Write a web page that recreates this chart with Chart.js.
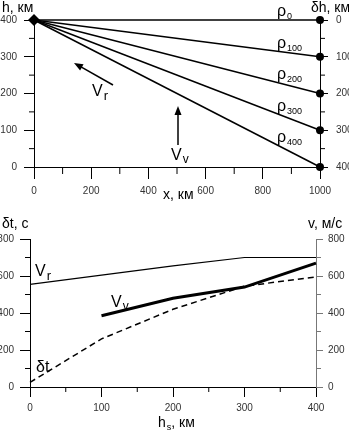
<!DOCTYPE html>
<html>
<head>
<meta charset="utf-8">
<script src="https://cdn.jsdelivr.net/npm/chart.js@4.4.0/dist/chart.umd.min.js"></script>
<style>
  html, body { margin: 0; padding: 0; background: #fff; }
  .wrap { position: absolute; left: 0; width: 349px; height: 215px; }
</style>
</head>
<body>
<div class="wrap" style="top:0"><canvas id="topChart" width="349" height="215"></canvas></div>
<div class="wrap" style="top:215px"><canvas id="bottomChart" width="349" height="215"></canvas></div>
<script>
// top chart: rays from the source point, by density level
const xDist = [0, 1000];
const deltaH = [0, 100, 200, 300, 400];
const rhoLabels = ['0', '100', '200', '300', '400'];

// bottom chart: values vs source height hs
const hs = [0, 100, 200, 300, 400];
const vR = [555, 605, 655, 700, 700];
const vV = [null, 385, 480, 540, 670];
const dT = [25, 260, 420, 545, 595];

const NARROW = "'Liberation Sans Narrow', 'Arial Narrow', sans-serif";
const tickFont = { family: NARROW, size: 10 };

// short minor ticks drawn by hand (Chart.js has one tick length per axis)
function minorTicks(chart, id, values, len, dir, color) {
  const s = chart.scales[id];
  const ctx = chart.ctx;
  ctx.save();
  ctx.strokeStyle = color || '#000';
  ctx.lineWidth = 1;
  values.forEach(v => {
    const p = s.getPixelForValue(v);
    ctx.beginPath();
    if (s.isHorizontal()) {
      ctx.moveTo(p, s.top);
      ctx.lineTo(p, s.top + len);
    } else if (dir < 0) {
      ctx.moveTo(s.right, p);
      ctx.lineTo(s.right - len, p);
    } else {
      ctx.moveTo(s.left, p);
      ctx.lineTo(s.left + len, p);
    }
    ctx.stroke();
  });
  ctx.restore();
}

function subText(ctx, main, sub, x, y, mainSize, subSize, drop) {
  ctx.font = mainSize + 'px ' + NARROW;
  ctx.fillText(main, x, y);
  const w = ctx.measureText(main).width;
  ctx.font = subSize + 'px ' + NARROW;
  ctx.fillText(sub, x + w + 1, y + drop);
  return x + w + 1 + ctx.measureText(sub).width;
}

function arrow(ctx, x1, y1, x2, y2) {
  const a = Math.atan2(y2 - y1, x2 - x1);
  ctx.beginPath();
  ctx.moveTo(x1, y1);
  ctx.lineTo(x2 - 6 * Math.cos(a), y2 - 6 * Math.sin(a));
  ctx.lineWidth = 1.5;
  ctx.stroke();
  ctx.beginPath();
  ctx.moveTo(x2, y2);
  ctx.lineTo(x2 - 9 * Math.cos(a) + 3.5 * Math.sin(a), y2 - 9 * Math.sin(a) - 3.5 * Math.cos(a));
  ctx.lineTo(x2 - 9 * Math.cos(a) - 3.5 * Math.sin(a), y2 - 9 * Math.sin(a) + 3.5 * Math.cos(a));
  ctx.closePath();
  ctx.fill();
}

const topDecor = {
  id: 'topDecor',
  afterDraw(chart) {
    const ctx = chart.ctx;
    minorTicks(chart, 'x', [100, 300, 500, 700, 900], 7, 1);
    minorTicks(chart, 'y', [50, 150, 250, 350], 5, -1);
    minorTicks(chart, 'y2', [50, 150, 250, 350], 5, 1);

    ctx.save();
    ctx.fillStyle = '#000';
    ctx.strokeStyle = '#000';
    ctx.textBaseline = 'alphabetic';
    ctx.font = '14px ' + NARROW;
    ctx.fillText('h, км', 2, 12);
    ctx.fillText('δh, км', 311, 12);
    ctx.fillText('x, км', 163, 199);

    // rho labels sit just above each ray
    const xs = chart.scales.x, y2 = chart.scales.y2;
    deltaH.forEach((dh, i) => {
      const xv = 860;
      const px = xs.getPixelForValue(xv) - 3;
      const py = y2.getPixelForValue(dh * xv / 1000) - 4;
      subText(ctx, 'ρ', rhoLabels[i], px, py, 16, 9, 3);
    });

    arrow(ctx, 113, 85, 74, 63);
    subText(ctx, 'V', 'r', 92, 96, 16, 13, 4);
    arrow(ctx, 178, 145, 178, 106);
    subText(ctx, 'V', 'v', 171, 160, 16, 12, 3);
    ctx.restore();
  }
};

const bottomDecor = {
  id: 'bottomDecor',
  afterDraw(chart) {
    const ctx = chart.ctx;
    minorTicks(chart, 'x', [50, 150, 250, 350], 5, 1);
    minorTicks(chart, 'y', [100, 300, 500, 700], 5, -1);
    minorTicks(chart, 'y2', [100, 300, 500, 700], 5, 1, '#777');

    ctx.save();
    ctx.fillStyle = '#000';
    ctx.font = '14px ' + NARROW;
    ctx.fillText('δt, c', 2, 13);
    ctx.fillText('v, м/с', 308, 13);
    const end = subText(ctx, 'h', 's', 158, 212, 14, 9, 3);
    ctx.font = '14px ' + NARROW;
    ctx.fillText(', км', end, 212);

    subText(ctx, 'V', 'r', 35, 61, 16, 13, 4);
    subText(ctx, 'V', 'v', 111, 92, 16, 12, 3);
    ctx.font = '16px ' + NARROW;
    ctx.fillText('δt', 36, 157);
    ctx.restore();
  }
};

function yAxis(position, max, step, width, tickLen, pad, color, reverse, labelStep) {
  return {
    type: 'linear',
    position: position,
    min: 0,
    max: max,
    reverse: !!reverse,
    afterFit: s => { s.width = width; },
    border: { color: color, width: 1 },
    grid: { drawOnChartArea: false, tickLength: tickLen, tickColor: color },
    ticks: {
      stepSize: step,
      padding: pad,
      color: '#333',
      font: tickFont,
      callback: v => (v % labelStep === 0 ? String(v) : '')
    }
  };
}

new Chart(document.getElementById('topChart'), {
  type: 'scatter',
  data: {
    datasets: deltaH.map((dh, i) => ({
      data: [{ x: xDist[0], y: 0 }, { x: xDist[1], y: dh }],
      yAxisID: 'y2',
      showLine: true,
      clip: false,
      borderColor: '#000',
      borderWidth: 1.5,
      backgroundColor: '#000',
      pointStyle: ['rectRot', 'circle'],
      pointRadius: [i === 0 ? 6 : 0, 4],
      pointBorderWidth: 0
    }))
  },
  options: {
    responsive: false,
    animation: false,
    layout: { padding: { top: 20, right: 0, left: 0, bottom: 0 } },
    plugins: { legend: { display: false }, tooltip: { enabled: false } },
    scales: {
      x: {
        type: 'linear',
        min: 0,
        max: 1000,
        afterFit: s => { s.height = 48; },
        border: { color: '#000', width: 1 },
        grid: { drawOnChartArea: false, tickLength: 12, tickColor: '#000' },
        ticks: {
          stepSize: 200,
          padding: 6,
          color: '#333',
          font: tickFont,
          maxRotation: 0,
          callback: v => String(v)
        }
      },
      y: yAxis('left', 400, 100, 34, 10, 7, '#000', false, 100),
      y2: yAxis('right', 400, 100, 29, 8, 8, '#000', true, 100)
    }
  },
  plugins: [topDecor]
});

new Chart(document.getElementById('bottomChart'), {
  type: 'line',
  data: {
    labels: hs,
    datasets: [
      { data: vR, yAxisID: 'y2', borderColor: '#000', borderWidth: 1.2, pointRadius: 0, tension: 0, clip: false },
      { data: vV, yAxisID: 'y2', borderColor: '#000', borderWidth: 3, pointRadius: 0, tension: 0, clip: false },
      { data: dT, yAxisID: 'y', borderColor: '#000', borderWidth: 1.5, borderDash: [6, 4], pointRadius: 0, tension: 0, clip: false }
    ]
  },
  options: {
    responsive: false,
    animation: false,
    layout: { padding: { top: 24, right: 0, left: 0, bottom: 0 } },
    plugins: { legend: { display: false }, tooltip: { enabled: false } },
    scales: {
      x: {
        type: 'linear',
        min: 0,
        max: 400,
        afterFit: s => { s.height = 43; },
        border: { color: '#000', width: 1 },
        grid: { drawOnChartArea: false, tickLength: 10, tickColor: '#000' },
        ticks: { stepSize: 100, padding: 5, color: '#333', font: tickFont, maxRotation: 0 }
      },
      y: yAxis('left', 800, 200, 30, 10, 6, '#000', false, 200),
      y2: yAxis('right', 800, 200, 33, 7, 5, '#777', false, 200)
    }
  },
  plugins: [bottomDecor]
});
</script>
</body>
</html>
